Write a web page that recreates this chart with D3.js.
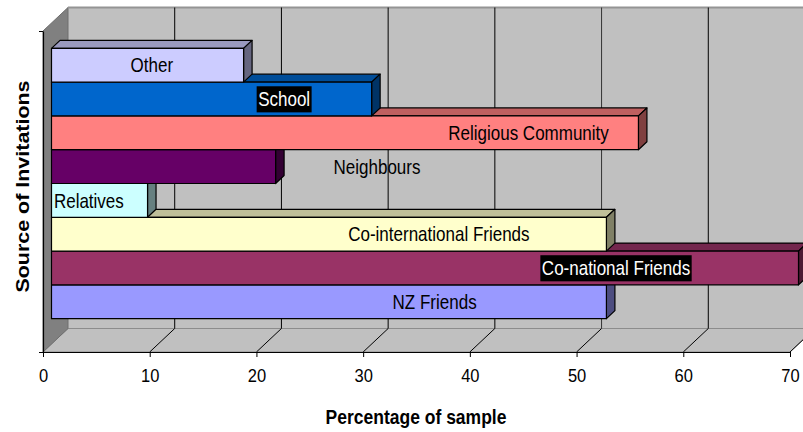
<!DOCTYPE html>
<html>
<head>
<meta charset="utf-8">
<script src="https://cdn.jsdelivr.net/npm/d3@7"></script>
<style>
  body { margin: 0; background: #fff; }
  text { font-family: Arial, "Liberation Sans", sans-serif; }
</style>
</head>
<body>
<svg id="chart" width="803" height="432"></svg>
<script>
/* Data, top bar first. */
const sources = ["Other", "School", "Religious Community", "Neighbours", "Relatives",
  "Co-international Friends", "Co-national Friends", "NZ Friends"]
const percent = [18, 30, 55, 21, 9, 52, 70, 52]
/* Where each data label sits, in axis units. */
const labelAt = [9.4, 21.8, 44.7, 30.5, 3.5, 36.3, 52.9, 35.9]
const xTicks = [0, 10, 20, 30, 40, 50, 60, 70]
const barColours = ["#ccccff", "#0066cc", "#ff8080", "#660066", "#ccffff", "#ffffcc", "#993366", "#9999ff"]
const boxedLabels = ["School", "Co-national Friends"]

/* Layout. */
const width = 803
const height = 432
const DX = 25, DY = -23.5        // full depth of the 3d box
const t0 = 0.34, t1 = 0.68       // front and back of the bars, as part of the depth
const stretch = 1.16             // text in the picture is a bit taller than wide

const svg = d3.select("#chart")

/* Scales on the front plane. */
const x = d3.scaleLinear().domain([0, 70]).range([43, 790])
const y = d3.scaleBand().domain(sources).range([31, 352]).paddingOuter(0.75).paddingInner(0)
const catAxisScale = d3.scaleLinear().domain([0, 1]).range([352, 31])

const top0 = 31, bottom0 = 352
const xMax = x(70) + DX

/* Back wall. */
svg.append("rect")
  .attr("x", x(0) + DX).attr("y", top0 + DY)
  .attr("width", xMax - x(0) - DX).attr("height", bottom0 - top0)
  .attr("fill", "#c0c0c0")

/* Floor. */
svg.append("path")
  .attr("d", `M${x(0)},${bottom0} L${x(0) + DX},${bottom0 + DY} L${xMax},${bottom0 + DY} L${x(70)},${bottom0} Z`)
  .attr("fill", "#c0c0c0")
  .attr("stroke", "#8c8c8c")
  .attr("stroke-width", 1)

/* Left wall. */
svg.append("path")
  .attr("d", `M${x(0)},${top0} L${x(0) + DX},${top0 + DY} L${x(0) + DX},${bottom0 + DY} L${x(0)},${bottom0} Z`)
  .attr("fill", "#808080")
  .attr("stroke", "#6e6e6e")
  .attr("stroke-width", 1)

/* Top edge of back wall. */
svg.append("line")
  .attr("x1", x(0) + DX).attr("x2", width)
  .attr("y1", top0 + DY).attr("y2", top0 + DY)
  .attr("stroke", "#949494").attr("stroke-width", 2)

/* Grid lines: along the floor, then up the back wall. */
const grid = svg.append("g").attr("stroke", "#000").attr("stroke-width", 1).attr("fill", "none")
grid.selectAll(".floorline")
  .data(xTicks.slice(1))
  .join("line")
  .attr("x1", d => x(d)).attr("y1", bottom0)
  .attr("x2", d => x(d) + DX).attr("y2", bottom0 + DY)
grid.selectAll(".wallline")
  .data(xTicks.slice(1))
  .join("line")
  .attr("x1", d => x(d) + DX).attr("y1", bottom0 + DY)
  .attr("x2", d => x(d) + DX).attr("y2", top0 + DY)
  .attr("stroke", d => d === 50 ? "#333" : "#000")

/* Bars, drawn from the bottom one up so upper front faces cover lower tops. */
const ox = t0 * DX, oy = t0 * DY
const bdx = (t1 - t0) * DX, bdy = (t1 - t0) * DY
const bars = sources.map((s, i) => ({ source: s, value: percent[i], colour: barColours[i] })).reverse()

const barGroups = svg.selectAll(".bar")
  .data(bars)
  .join("g")
  .attr("class", "bar")
  .attr("stroke", "#000")
  .attr("stroke-width", 1.2)
  .attr("stroke-linejoin", "round")

barGroups.each(function (d) {
  const g = d3.select(this)
  const x0 = x(0) + ox, x1 = x(d.value) + ox
  const y0 = y(d.source) + oy, y1 = y(d.source) + y.bandwidth() + oy
  const c = d3.rgb(d.colour)
  const shade = k => d3.rgb(c.r * k, c.g * k, c.b * k).formatHex()

  g.append("path")
    .attr("d", `M${x0},${y0} L${x1},${y0} L${x1 + bdx},${y0 + bdy} L${x0 + bdx},${y0 + bdy} Z`)
    .attr("fill", shade(0.75))
  g.append("path")
    .attr("d", `M${x1},${y0} L${x1 + bdx},${y0 + bdy} L${x1 + bdx},${y1 + bdy} L${x1},${y1} Z`)
    .attr("fill", shade(0.5))
  g.append("rect")
    .attr("x", x0).attr("y", y0)
    .attr("width", x1 - x0).attr("height", y1 - y0)
    .attr("fill", d.colour)
})

/* Data labels. */
const labels = svg.selectAll(".label")
  .data(sources)
  .join("g")
  .attr("class", "label")
  .attr("transform", (d, i) => `translate(${x(labelAt[i]) + ox},${y(d) + y.bandwidth() / 2 + oy}) scale(1,${stretch})`)

labels.each(function (d) {
  const g = d3.select(this)
  const boxed = boxedLabels.includes(d)
  const t = g.append("text")
    .attr("text-anchor", "middle")
    .attr("dy", "0.36em")
    .attr("font-size", 17)
    .attr("fill", boxed ? "#fff" : "#000")
    .text(d)
  if (boxed) {
    const b = t.node().getBBox()
    g.insert("rect", "text")
      .attr("x", b.x - 1.5).attr("y", -11)
      .attr("width", b.width + 3).attr("height", 22.5)
      .attr("fill", "#000")
  }
})

/* Value axis. */
const xAxis = d3.axisBottom(x)
  .tickValues(xTicks)
  .tickSize(5)
  .tickSizeOuter(0)
  .tickFormat(d3.format("d"))

const xg = svg.append("g")
  .attr("transform", `translate(0,${bottom0})`)
  .call(xAxis)
xg.select(".domain").attr("stroke", "#000").attr("stroke-width", 1.2)
xg.selectAll(".tick line").attr("stroke", "#000")
xg.selectAll(".tick text")
  .attr("y", 0).attr("dy", 0)
  .attr("transform", `translate(0,30) scale(1,${stretch})`)
  .attr("font-size", 16.5)
  .attr("font-family", "Arial, 'Liberation Sans', sans-serif")
  .attr("fill", "#000")

/* Category axis: just the line and its two end ticks. */
const yAxis = d3.axisLeft(catAxisScale)
  .tickValues([0, 1])
  .tickSize(4)
  .tickSizeOuter(0)
  .tickFormat("")
const yg = svg.append("g")
  .attr("transform", `translate(${x(0)},0)`)
  .call(yAxis)
yg.select(".domain").attr("stroke", "#000").attr("stroke-width", 1.2)
yg.selectAll(".tick line").attr("stroke", "#000")

/* Axis titles. */
svg.append("text")
  .attr("transform", `translate(416,424) scale(1,${stretch})`)
  .attr("text-anchor", "middle")
  .attr("font-size", 17.5)
  .attr("font-weight", "bold")
  .text("Percentage of sample")

svg.append("text")
  .attr("transform", `translate(29,186.5) scale(1,${stretch}) rotate(-90)`)
  .attr("text-anchor", "middle")
  .attr("font-size", 18.5)
  .attr("font-weight", "bold")
  .text("Source of Invitations")
</script>
</body>
</html>
